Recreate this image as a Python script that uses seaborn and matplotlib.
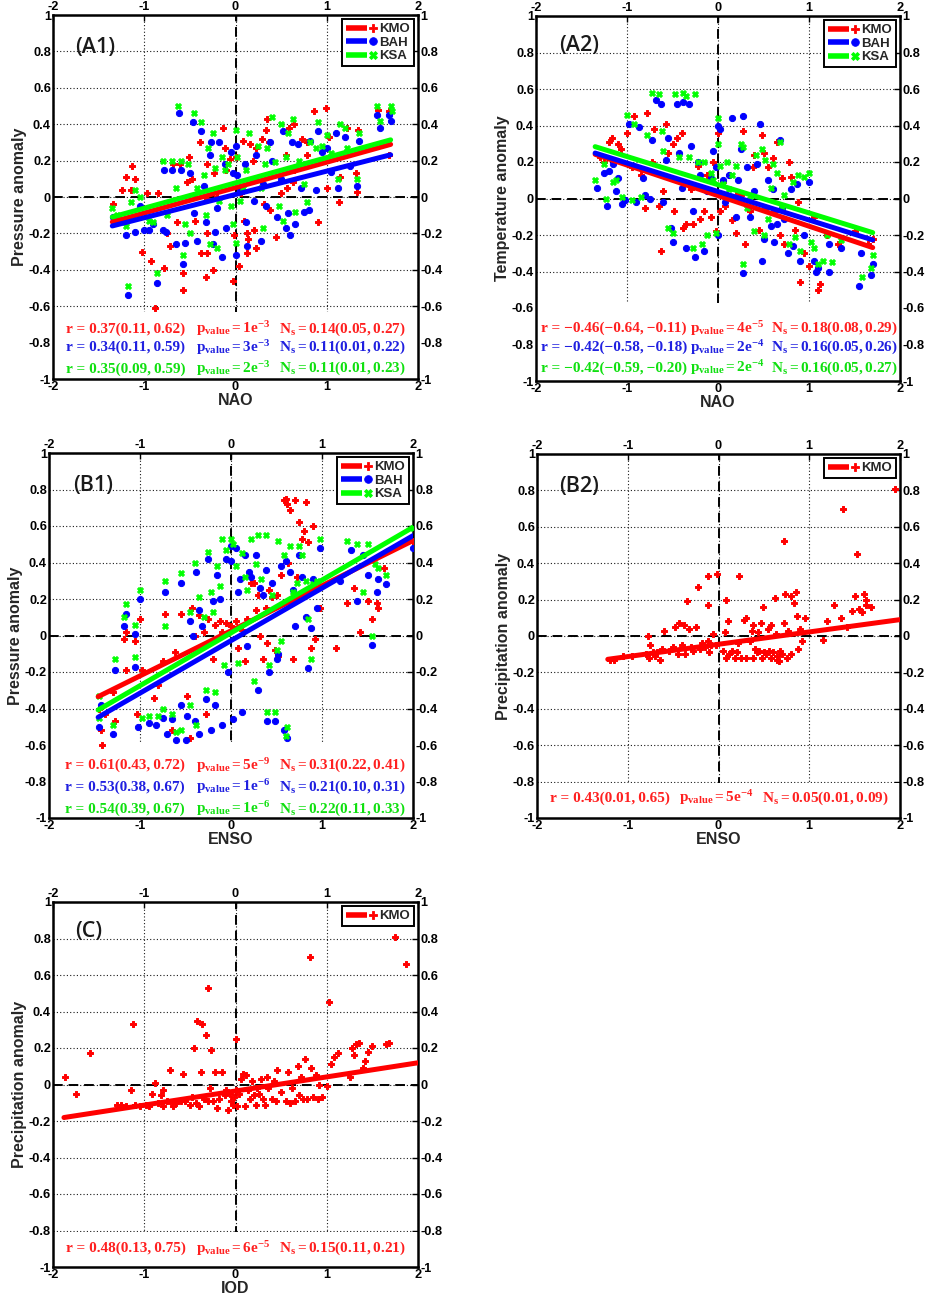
import numpy as np
import matplotlib
matplotlib.use("Agg")
import matplotlib.pyplot as plt
import seaborn as sns
from matplotlib.lines import Line2D
from matplotlib.legend_handler import HandlerBase

# ---------------------------------------------------------------------------
# Data: (index, anomaly) pairs for each station, regression end points, stats
# ---------------------------------------------------------------------------
a1_kmo = [(-1.34, -0.04), (-1.24, 0.04), (-1.20, 0.11), (-1.13, 0.17), (-1.10, 0.10), (-1.15, 0.04),
          (-1.03, -0.30), (-0.97, 0.02), (-0.93, -0.35), (-0.88, -0.61), (-0.85, 0.02), (-0.78, -0.39),
          (-0.75, -0.20), (-0.72, -0.27), (-0.69, 0.18), (-0.64, -0.14), (-0.61, 0.18), (-0.58, -0.42),
          (-0.57, -0.51), (-0.51, 0.22), (-0.48, 0.10), (-0.39, 0.30), (-0.38, -0.31), (-0.32, -0.44),
          (-0.31, -0.31), (-0.31, -0.01), (-0.25, -0.40), (-0.24, 0.13), (-0.20, 0.00), (-0.14, 0.38),
          (-0.11, 0.27), (-0.10, 0.15), (-0.03, -0.46), (0.00, 0.22), (0.04, -0.38), (0.06, 0.02),
          (0.08, 0.31), (0.13, -0.20), (0.13, -0.31), (0.14, -0.23), (0.16, 0.29), (0.19, 0.20),
          (0.23, -0.28), (0.29, 0.32), (0.31, -0.04), (0.33, 0.37), (0.34, 0.43), (0.37, 0.30),
          (0.38, -0.07), (0.50, 0.02), (0.44, -0.22), (0.55, 0.23), (0.59, 0.38), (0.64, 0.40),
          (0.63, 0.08), (0.73, 0.32), (0.78, 0.23), (0.86, 0.47), (0.90, -0.14), (0.99, 0.49),
          (1.00, 0.05), (1.02, 0.33), (1.13, -0.03), (1.14, 0.11), (1.22, 0.38), (1.32, 0.13),
          (1.33, 0.03), (1.34, 0.37), (1.56, 0.48), (1.68, 0.47), (1.68, 0.23), (0.78, 0.30),
          (0.09, -0.13), (-0.02, -0.21), (-0.44, -0.13), (-0.53, 0.08), (-0.31, 0.18), (-0.06, 0.21),
          (0.23, 0.27), (0.56, 0.05), (0.64, 0.15), (-0.31, -0.20), (0.20, -0.18)]
a1_bah = [(-1.34, -0.11), (-1.20, -0.21), (-1.18, -0.54), (-1.10, -0.19), (-1.05, -0.05), (-1.00, -0.18),
          (-0.95, -0.18), (-0.90, -0.15), (-0.86, -0.47), (-0.80, -0.18), (-0.78, 0.15), (-0.76, -0.19),
          (-0.70, 0.15), (-0.65, -0.26), (-0.62, 0.46), (-0.60, 0.15), (-0.58, -0.37), (-0.55, -0.25),
          (-0.50, 0.13), (-0.47, 0.41), (-0.45, -0.09), (-0.42, -0.24), (-0.38, 0.36), (-0.35, 0.06),
          (-0.32, -0.14), (-0.28, 0.23), (-0.27, 0.30), (-0.25, -0.26), (-0.22, -0.19), (-0.20, -0.06),
          (-0.18, 0.30), (-0.15, -0.33), (-0.12, 0.18), (-0.10, -0.17), (-0.05, 0.25), (-0.03, 0.13),
          (0.00, 0.28), (0.00, -0.32), (0.02, 0.12), (0.05, 0.04), (0.10, 0.18), (0.12, -0.14),
          (0.13, -0.27), (0.20, -0.02), (0.22, 0.23), (0.28, -0.24), (0.30, 0.07), (0.33, -0.05),
          (0.38, 0.30), (0.40, 0.20), (0.45, -0.11), (0.50, 0.10), (0.52, 0.36), (0.55, -0.17),
          (0.58, -0.09), (0.60, -0.21), (0.62, 0.30), (0.65, -0.15), (0.68, 0.29), (0.72, 0.05),
          (0.75, -0.08), (0.80, -0.07), (0.82, 0.31), (0.88, 0.04), (0.90, 0.36), (0.95, 0.25),
          (1.00, 0.27), (1.05, 0.14), (1.12, 0.05), (1.10, 0.35), (1.20, 0.33), (1.25, 0.17),
          (1.33, 0.06), (1.35, 0.31), (1.55, 0.45), (1.58, 0.38), (1.68, 0.45), (1.70, 0.42)]
a1_ksa = [(-1.35, -0.06), (-1.30, -0.10), (-1.20, -0.16), (-1.18, -0.49), (-1.15, -0.03), (-1.10, 0.04),
          (-1.05, 0.00), (-0.95, -0.13), (-0.90, -0.14), (-0.86, -0.42), (-0.80, 0.20), (-0.75, -0.10),
          (-0.70, 0.20), (-0.65, 0.05), (-0.63, 0.50), (-0.60, 0.20), (-0.58, -0.32), (-0.55, -0.15),
          (-0.52, 0.18), (-0.50, -0.20), (-0.45, 0.46), (-0.42, 0.05), (-0.38, 0.41), (-0.35, 0.12),
          (-0.32, -0.10), (-0.30, 0.27), (-0.28, -0.26), (-0.25, 0.35), (-0.22, 0.16), (-0.20, -0.28),
          (-0.18, -0.02), (-0.15, 0.22), (-0.12, 0.15), (-0.08, 0.18), (-0.05, -0.05), (-0.03, -0.15),
          (0.00, 0.37), (0.00, -0.25), (0.02, 0.22), (0.05, -0.02), (0.08, 0.05), (0.12, 0.15),
          (0.15, 0.35), (0.20, 0.10), (0.25, 0.28), (0.28, 0.05), (0.30, -0.17), (0.32, 0.18),
          (0.35, 0.27), (0.40, 0.44), (0.43, 0.19), (0.48, -0.05), (0.50, 0.40), (0.52, -0.13),
          (0.55, 0.22), (0.58, 0.35), (0.63, 0.43), (0.65, -0.08), (0.70, 0.20), (0.75, 0.07),
          (0.78, -0.03), (0.82, 0.30), (0.88, 0.27), (0.90, 0.41), (0.95, 0.28), (1.00, 0.34),
          (1.05, 0.24), (1.12, 0.10), (1.15, 0.40), (1.20, 0.38), (1.22, 0.27), (1.33, 0.10),
          (1.35, 0.35), (1.55, 0.50), (1.58, 0.42), (1.70, 0.50), (1.72, 0.47)]

a2_kmo = [(-1.30, 0.23), (-1.25, 0.20), (-1.20, 0.31), (-1.17, 0.33), (-1.10, 0.30), (-1.07, 0.27),
          (-1.00, 0.36), (-0.95, 0.17), (-0.92, 0.45), (-0.85, 0.13), (-0.80, -0.05), (-0.78, 0.47),
          (-0.73, 0.20), (-0.70, 0.38), (-0.65, -0.04), (-0.63, -0.29), (-0.60, 0.04), (-0.57, 0.41),
          (-0.55, 0.25), (-0.50, 0.30), (-0.48, -0.07), (-0.45, 0.33), (-0.40, 0.36), (-0.38, -0.16),
          (-0.35, -0.14), (-0.30, 0.05), (-0.27, -0.14), (-0.22, 0.18), (-0.20, -0.11), (-0.15, -0.07),
          (-0.12, 0.13), (-0.08, -0.10), (-0.05, 0.20), (-0.02, -0.18), (0.00, 0.36), (0.02, -0.07),
          (0.05, 0.09), (0.08, -0.04), (0.12, 0.13), (0.15, -0.12), (0.20, -0.19), (0.22, 0.03),
          (0.25, 0.02), (0.28, 0.37), (0.30, -0.25), (0.35, -0.07), (0.38, 0.17), (0.40, 0.24),
          (0.45, -0.17), (0.48, 0.35), (0.50, 0.25), (0.52, -0.05), (0.55, 0.17), (0.60, 0.22),
          (0.62, -0.07), (0.65, 0.31), (0.68, -0.20), (0.70, 0.11), (0.72, -0.25), (0.78, 0.20),
          (0.80, 0.12), (0.85, -0.17), (0.88, -0.02), (0.90, -0.46), (0.95, -0.30), (1.00, -0.37),
          (1.05, -0.10), (1.10, -0.50), (1.12, -0.47), (1.20, -0.20), (1.32, -0.25), (1.50, -0.18),
          (1.65, -0.25), (1.70, -0.22)]
a2_bah = [(-1.33, 0.06), (-1.25, 0.14), (-1.22, -0.04), (-1.20, 0.15), (-1.15, 0.19), (-1.12, 0.04),
          (-1.10, 0.11), (-1.05, -0.03), (-1.02, -0.01), (-0.98, 0.41), (-0.90, -0.02), (-0.87, 0.39),
          (-0.82, 0.11), (-0.80, 0.02), (-0.75, 0.00), (-0.72, 0.32), (-0.68, 0.54), (-0.63, 0.52),
          (-0.60, -0.02), (-0.57, 0.21), (-0.55, 0.33), (-0.52, -0.16), (-0.50, -0.24), (-0.45, 0.52),
          (-0.43, 0.25), (-0.40, 0.06), (-0.38, 0.53), (-0.35, -0.27), (-0.32, 0.52), (-0.30, 0.29),
          (-0.28, -0.07), (-0.25, -0.32), (-0.22, 0.20), (-0.20, 0.13), (-0.15, -0.29), (-0.12, 0.04),
          (-0.08, 0.11), (-0.05, 0.26), (-0.02, 0.17), (0.00, 0.40), (0.00, -0.20), (0.02, 0.38),
          (0.05, 0.10), (0.08, -0.02), (0.12, 0.13), (0.15, 0.44), (0.20, -0.10), (0.22, 0.10),
          (0.25, 0.27), (0.28, 0.45), (0.28, -0.41), (0.32, 0.17), (0.35, -0.10), (0.40, 0.04),
          (0.43, 0.19), (0.46, 0.41), (0.48, -0.34), (0.50, -0.22), (0.55, 0.10), (0.58, -0.15),
          (0.60, 0.05), (0.62, -0.24), (0.65, -0.14), (0.68, 0.32), (0.70, -0.05), (0.72, -0.11),
          (0.77, -0.30), (0.80, 0.05), (0.82, -0.26), (0.87, 0.08), (0.90, -0.34), (0.95, -0.20),
          (1.00, 0.09), (1.05, -0.34), (1.08, -0.40), (1.10, -0.38), (1.22, -0.25), (1.22, -0.40),
          (1.35, -0.27), (1.55, -0.48), (1.57, -0.30), (1.68, -0.42), (1.70, -0.36)]
a2_ksa = [(-1.35, 0.10), (-1.25, 0.19), (-1.23, 0.00), (-1.15, 0.09), (-1.12, 0.10), (-1.05, 0.01),
          (-1.00, 0.46), (-0.95, -0.01), (-0.92, 0.41), (-0.85, 0.01), (-0.78, 0.35), (-0.72, 0.58),
          (-0.65, 0.57), (-0.62, 0.37), (-0.60, 0.26), (-0.55, -0.16), (-0.50, -0.19), (-0.47, 0.57),
          (-0.43, 0.23), (-0.38, 0.58), (-0.35, 0.56), (-0.32, 0.23), (-0.28, -0.27), (-0.25, 0.57),
          (-0.22, 0.20), (-0.18, -0.25), (-0.15, 0.20), (-0.12, -0.20), (-0.08, 0.14), (-0.05, 0.10),
          (-0.02, -0.19), (0.00, 0.44), (0.00, 0.30), (0.02, 0.18), (0.05, 0.08), (0.10, 0.20),
          (0.12, 0.05), (0.15, 0.13), (0.20, 0.18), (0.25, 0.30), (0.28, 0.28), (0.28, -0.36),
          (0.32, -0.05), (0.35, 0.00), (0.40, -0.18), (0.42, 0.24), (0.48, 0.27), (0.50, -0.20),
          (0.52, 0.21), (0.55, -0.11), (0.58, 0.06), (0.60, 0.19), (0.65, 0.14), (0.68, 0.31),
          (0.70, -0.05), (0.73, 0.02), (0.78, -0.25), (0.82, 0.09), (0.85, -0.21), (0.88, 0.13),
          (0.90, -0.29), (0.95, 0.12), (1.00, 0.14), (1.02, -0.24), (1.05, -0.27), (1.10, -0.36),
          (1.15, -0.34), (1.20, -0.20), (1.25, -0.35), (1.35, -0.23), (1.58, -0.43), (1.68, -0.38),
          (1.70, -0.31)]

b1_kmo = [(-1.45, -0.40), (-1.43, -0.52), (-1.42, -0.60), (-1.38, -0.43), (-1.30, -0.31), (-1.28, -0.47),
          (-1.18, -0.02), (-1.15, 0.02), (-1.15, -0.19), (-1.05, -0.03), (-1.03, -0.43), (-1.00, 0.09),
          (-0.98, -0.19), (-0.85, -0.34), (-0.80, -0.27), (-0.75, -0.14), (-0.72, 0.12), (-0.65, -0.52),
          (-0.62, -0.09), (-0.55, 0.12), (-0.48, -0.33), (-0.45, -0.56), (-0.43, 0.15), (-0.40, 0.00),
          (-0.35, 0.11), (-0.30, 0.02), (-0.28, -0.43), (-0.25, 0.09), (-0.20, -0.13), (-0.18, 0.06),
          (-0.12, 0.08), (-0.10, 0.02), (-0.05, 0.07), (0.00, 0.05), (0.05, 0.08), (0.08, -0.07),
          (0.12, 0.03), (0.15, -0.14), (0.18, 0.09), (0.22, 0.29), (0.25, 0.29), (0.28, 0.14),
          (0.30, 0.22), (0.32, 0.00), (0.35, -0.13), (0.38, 0.15), (0.40, -0.04), (0.42, 0.25),
          (0.45, 0.21), (0.48, -0.08), (0.50, 0.22), (0.52, -0.11), (0.55, 0.33), (0.58, 0.74),
          (0.60, 0.75), (0.62, 0.72), (0.63, 0.40), (0.65, 0.69), (0.68, -0.13), (0.70, 0.74),
          (0.72, 0.32), (0.75, 0.62), (0.78, 0.53), (0.80, 0.57), (0.82, 0.73), (0.85, 0.51),
          (0.88, -0.07), (0.90, 0.60), (0.92, -0.02), (0.98, 0.15), (1.15, -0.07), (1.28, 0.18),
          (1.35, 0.26), (1.42, 0.02), (1.50, 0.19), (1.55, 0.09), (1.60, 0.18), (1.62, 0.15),
          (1.68, 0.37), (2.00, 0.52)]
b1_bah = [(-1.45, -0.50), (-1.43, -0.38), (-1.30, -0.54), (-1.28, -0.19), (-1.18, 0.05), (-1.15, 0.12),
          (-1.05, 0.01), (-1.05, -0.17), (-1.02, -0.50), (-1.00, 0.20), (-0.90, -0.48), (-0.82, -0.49),
          (-0.75, -0.45), (-0.72, 0.24), (-0.70, -0.54), (-0.65, -0.46), (-0.60, -0.57), (-0.55, -0.38),
          (-0.55, 0.29), (-0.50, -0.57), (-0.48, -0.44), (-0.45, 0.08), (-0.42, 0.00), (-0.40, -0.47),
          (-0.38, 0.35), (-0.35, -0.54), (-0.35, 0.14), (-0.32, 0.05), (-0.28, -0.35), (-0.25, 0.42),
          (-0.22, -0.52), (-0.20, 0.19), (-0.18, -0.38), (-0.15, 0.33), (-0.12, 0.20), (-0.10, -0.49),
          (-0.05, 0.42), (-0.03, -0.20), (0.00, 0.49), (0.00, 0.41), (0.02, -0.46), (0.05, 0.48),
          (0.08, 0.24), (0.10, 0.31), (0.12, -0.42), (0.15, 0.44), (0.18, -0.06), (0.20, 0.35),
          (0.22, 0.32), (0.28, 0.44), (0.30, -0.30), (0.32, 0.26), (0.35, 0.22), (0.38, 0.36),
          (0.40, -0.47), (0.42, -0.20), (0.45, 0.29), (0.48, -0.47), (0.50, -0.13), (0.52, -0.10),
          (0.55, 0.38), (0.58, -0.52), (0.60, 0.41), (0.62, -0.56), (0.65, 0.35), (0.68, 0.25),
          (0.70, 0.05), (0.72, 0.20), (0.75, 0.44), (0.78, 0.32), (0.82, 0.10), (0.85, -0.18),
          (0.88, 0.04), (0.90, 0.31), (0.95, 0.15), (0.98, 0.48), (1.20, 0.30), (1.32, 0.47),
          (1.38, 0.19), (1.45, 0.44), (1.50, 0.33), (1.55, -0.05), (1.60, 0.24), (1.62, 0.31),
          (1.70, 0.28), (2.00, 0.48)]
b1_ksa = [(-1.45, -0.33), (-1.45, -0.45), (-1.30, -0.49), (-1.28, -0.13), (-1.18, 0.10), (-1.15, 0.17),
          (-1.05, -0.12), (-1.05, 0.06), (-1.00, 0.25), (-0.98, -0.45), (-0.90, -0.44), (-0.80, -0.44),
          (-0.75, -0.40), (-0.72, 0.30), (-0.72, 0.05), (-0.65, -0.43), (-0.60, -0.53), (-0.55, 0.34),
          (-0.55, -0.52), (-0.45, -0.38), (-0.45, 0.13), (-0.40, 0.40), (-0.38, -0.49), (-0.35, 0.21),
          (-0.30, 0.10), (-0.28, -0.30), (-0.25, 0.46), (-0.22, 0.24), (-0.20, 0.13), (-0.18, -0.31),
          (-0.15, 0.38), (-0.12, 0.27), (-0.10, 0.53), (-0.08, -0.16), (-0.05, 0.47), (0.00, 0.53),
          (0.02, 0.50), (0.05, 0.38), (0.08, -0.15), (0.12, 0.45), (0.15, 0.32), (0.18, 0.25),
          (0.22, 0.53), (0.25, -0.25), (0.28, 0.39), (0.30, 0.55), (0.33, 0.31), (0.38, 0.55),
          (0.40, -0.42), (0.42, -0.16), (0.45, 0.22), (0.48, -0.42), (0.50, -0.08), (0.52, 0.52),
          (0.55, -0.03), (0.58, 0.44), (0.60, -0.55), (0.62, -0.50), (0.65, 0.49), (0.68, 0.24),
          (0.72, 0.29), (0.75, 0.49), (0.78, 0.44), (0.82, 0.30), (0.85, 0.09), (0.88, -0.13),
          (0.90, 0.28), (0.95, 0.30), (0.98, 0.53), (1.28, 0.52), (1.38, 0.50), (1.45, 0.24),
          (1.50, 0.50), (1.55, 0.00), (1.58, 0.39), (1.62, 0.37), (1.70, 0.33), (2.00, 0.59)]

b2_kmo = [(-1.20, -0.13), (-1.15, -0.13), (-1.05, -0.11), (-0.95, -0.11), (-0.80, -0.10), (-0.78, 0.00),
          (-0.77, -0.12), (-0.75, -0.05), (-0.72, -0.09), (-0.70, -0.11), (-0.68, -0.09), (-0.65, -0.13),
          (-0.62, -0.07), (-0.60, 0.03), (-0.55, -0.08), (-0.50, -0.06), (-0.48, 0.05), (-0.45, -0.10),
          (-0.43, 0.07), (-0.40, -0.05), (-0.38, 0.06), (-0.37, -0.10), (-0.35, 0.19), (-0.33, 0.04),
          (-0.30, -0.06), (-0.28, -0.08), (-0.25, 0.05), (-0.23, 0.27), (-0.20, -0.07), (-0.18, -0.04),
          (-0.15, -0.06), (-0.12, -0.03), (-0.12, 0.17), (-0.12, 0.33), (-0.10, -0.09), (-0.08, -0.05),
          (-0.06, 0.01), (-0.03, -0.05), (-0.02, 0.34), (0.05, -0.08), (0.07, 0.02), (0.08, 0.20),
          (0.08, -0.12), (0.10, 0.08), (0.12, -0.10), (0.15, -0.08), (0.18, -0.12), (0.20, -0.09),
          (0.22, -0.04), (0.23, 0.33), (0.25, -0.12), (0.28, 0.09), (0.30, 0.10), (0.30, -0.12),
          (0.35, -0.03), (0.37, 0.03), (0.38, 0.06), (0.38, -0.12), (0.40, -0.07), (0.42, -0.09),
          (0.43, 0.02), (0.45, -0.08), (0.47, 0.07), (0.48, -0.12), (0.49, 0.16), (0.50, -0.09),
          (0.52, -0.10), (0.55, 0.04), (0.56, -0.08), (0.58, 0.06), (0.58, -0.12), (0.60, -0.09),
          (0.62, 0.21), (0.63, 0.01), (0.64, -0.13), (0.65, -0.11), (0.67, -0.14), (0.68, -0.08),
          (0.70, -0.10), (0.72, 0.52), (0.72, 0.07), (0.73, 0.23), (0.75, -0.12), (0.77, 0.03),
          (0.80, -0.10), (0.80, 0.22), (0.83, 0.18), (0.85, 0.24), (0.87, 0.11), (0.88, -0.07),
          (0.90, 0.04), (0.92, -0.03), (0.95, 0.10), (1.15, -0.02), (1.20, 0.08), (1.27, 0.17),
          (1.35, 0.10), (1.37, 0.70), (1.42, 0.05), (1.47, 0.14), (1.50, 0.22), (1.53, 0.45),
          (1.55, 0.15), (1.58, 0.13), (1.60, 0.23), (1.62, 0.17), (1.63, 0.20), (1.68, 0.16),
          (1.95, 0.81)]

c_kmo = [(-1.87, 0.04), (-1.75, -0.05), (-1.60, 0.17), (-1.30, -0.11), (-1.25, -0.11), (-1.20, -0.12),
         (-1.15, -0.03), (-1.12, 0.33), (-1.10, -0.11), (-1.05, -0.12), (-0.98, -0.11), (-0.95, -0.12),
         (-0.92, -0.05), (-0.88, 0.01), (-0.85, -0.10), (-0.82, -0.06), (-0.80, -0.12), (-0.80, -0.03),
         (-0.75, -0.09), (-0.72, 0.08), (-0.70, -0.10), (-0.68, -0.12), (-0.65, -0.10), (-0.60, -0.09),
         (-0.58, 0.06), (-0.55, -0.09), (-0.50, -0.11), (-0.48, -0.07), (-0.45, 0.20), (-0.43, -0.10),
         (-0.42, 0.35), (-0.40, -0.12), (-0.38, 0.07), (-0.37, 0.33), (-0.35, -0.08), (-0.32, 0.27),
         (-0.30, -0.09), (-0.30, 0.53), (-0.28, -0.02), (-0.27, 0.19), (-0.25, -0.09), (-0.22, 0.07),
         (-0.20, -0.13), (-0.18, -0.08), (-0.15, 0.07), (-0.12, -0.06), (-0.10, -0.03), (-0.08, -0.14),
         (-0.06, -0.05), (-0.05, -0.09), (-0.03, -0.11), (-0.02, -0.07), (0.00, 0.25), (0.00, -0.03),
         (0.02, -0.12), (0.04, -0.05), (0.06, 0.03), (0.08, 0.06), (0.10, -0.12), (0.12, 0.05),
         (0.14, -0.03), (0.16, -0.08), (0.18, 0.02), (0.20, -0.06), (0.22, -0.11), (0.24, -0.02),
         (0.26, -0.05), (0.28, 0.03), (0.30, -0.08), (0.32, -0.11), (0.34, 0.04), (0.36, -0.02),
         (0.40, -0.08), (0.42, 0.02), (0.44, -0.09), (0.46, 0.08), (0.50, -0.04), (0.55, -0.09),
         (0.58, 0.07), (0.60, -0.10), (0.62, -0.02), (0.65, -0.09), (0.68, 0.10), (0.70, -0.06),
         (0.72, 0.04), (0.74, -0.08), (0.76, 0.14), (0.78, -0.08), (0.82, 0.70), (0.83, 0.09),
         (0.85, -0.07), (0.88, 0.05), (0.90, -0.08), (0.92, 0.00), (0.95, -0.07), (1.00, -0.01),
         (1.03, 0.45), (1.05, 0.11), (1.08, 0.15), (1.12, 0.17), (1.25, 0.04), (1.28, 0.20),
         (1.30, 0.16), (1.32, 0.22), (1.35, 0.23), (1.40, 0.09), (1.42, 0.13), (1.45, 0.18),
         (1.50, 0.21), (1.65, 0.22), (1.68, 0.23), (1.75, 0.81), (1.87, 0.66)]

# Least-squares lines (x end points, y end points)
a1_fit = {"KMO": ([-1.35, 1.70], [-0.137, 0.289]),
          "BAH": ([-1.35, 1.70], [-0.159, 0.232]),
          "KSA": ([-1.35, 1.70], [-0.110, 0.314])}
a2_fit = {"KMO": ([-1.35, 1.70], [0.242, -0.269]),
          "BAH": ([-1.35, 1.70], [0.249, -0.227]),
          "KSA": ([-1.35, 1.70], [0.284, -0.187])}
b1_fit = {"KMO": ([-1.46, 2.00], [-0.335, 0.520]),
          "BAH": ([-1.46, 2.00], [-0.448, 0.547]),
          "KSA": ([-1.46, 2.00], [-0.408, 0.593])}
b2_fit = {"KMO": ([-1.22, 2.00], [-0.128, 0.090])}
c_fit = {"KMO": ([-1.88, 2.00], [-0.181, 0.119])}

# Correlation (with confidence range), p-value and slope statistics per station
a1_stats = [("KMO", "0.37(0.11,\u20090.62)", "1e^{-3}", "0.14(0.05,0.27)"),
            ("BAH", "0.34(0.11,\u20090.59)", "3e^{-3}", "0.11(0.01,0.22)"),
            ("KSA", "0.35(0.09,\u20090.59)", "2e^{-3}", "0.11(0.01,0.23)")]
a2_stats = [("KMO", "\u22120.46(\u22120.64,\u2009\u22120.11)", "4e^{-5}", "0.18(0.08,0.29)"),
            ("BAH", "\u22120.42(\u22120.58,\u2009\u22120.18)", "2e^{-4}", "0.16(0.05,0.26)"),
            ("KSA", "\u22120.42(\u22120.59,\u2009\u22120.20)", "2e^{-4}", "0.16(0.05,0.27)")]
b1_stats = [("KMO", "0.61(0.43,\u20090.72)", "5e^{-9}", "0.31(0.22,0.41)"),
            ("BAH", "0.53(0.38,\u20090.67)", "1e^{-6}", "0.21(0.10,0.31)"),
            ("KSA", "0.54(0.39,\u20090.67)", "1e^{-6}", "0.22(0.11,0.33)")]
b2_stats = [("KMO", "0.43(0.01,\u20090.65)", "5e^{-4}", "0.05(0.01,0.09)")]
c_stats = [("KMO", "0.48(0.13,\u20090.75)", "6e^{-5}", "0.15(0.11,0.21)")]

x_ticks = [-2, -1, 0, 1, 2]
y_ticks = [-1, -0.8, -0.6, -0.4, -0.2, 0, 0.2, 0.4, 0.6, 0.8, 1]
y_tick_labels = ["-1", "-0.8", "-0.6", "-0.4", "-0.2", "0", "0.2", "0.4", "0.6", "0.8", "1"]

# ---------------------------------------------------------------------------
# Style
# ---------------------------------------------------------------------------
sns.set_theme(style="white")
plt.rcParams.update({
    "font.family": ["Liberation Sans", "DejaVu Sans"],
    "font.weight": "bold",
    "axes.labelweight": "bold",
    "axes.unicode_minus": False,
    "mathtext.fontset": "custom",
    "mathtext.rm": "Liberation Serif",
    "mathtext.bf": "Liberation Serif:bold",
    "mathtext.it": "Liberation Serif:italic",
})

STATION = {
    "KMO": dict(color="#ff0000", text="#ff2020", marker="P", s=20),
    "BAH": dict(color="#0000ff", text="#2020e0", marker="o", s=20),
    "KSA": dict(color="#00ff00", text="#10e010", marker="X", s=18),
}
STAT_FS = 11


class LineThenMarker(HandlerBase):
    """Legend key drawn as a thick line followed by the station marker."""

    def create_artists(self, legend, orig_handle, xdescent, ydescent,
                       width, height, fontsize, trans):
        yc = height / 2 - ydescent
        ln = Line2D([-xdescent, -xdescent + 0.66 * width], [yc, yc],
                    color=orig_handle.get_color(), lw=4, solid_capstyle="butt")
        mk = Line2D([-xdescent + 0.86 * width], [yc], ls="none",
                    marker=orig_handle.get_marker(), color=orig_handle.get_color(),
                    markersize=5.5, markeredgewidth=0.6)
        ln.set_transform(trans)
        mk.set_transform(trans)
        return [ln, mk]


W, H = 925, 1298
fig = plt.figure(figsize=(W / 100, H / 100), dpi=100)


def add_axes_px(left, top, right, bottom):
    return fig.add_axes([left / W, 1 - bottom / H, (right - left) / W, (bottom - top) / H])


def draw_panel(ax, tag, tag_xy, xlabel, ylabel, series, fits, stats, box_top, text_y, col_x):
    ax.set_xlim(-2, 2)
    ax.set_ylim(-1, 1)
    ax.grid(True, ls=(0, (1, 2)), color="black", lw=0.8, alpha=0.9)
    ax.set_axisbelow(True)
    ax.axvline(0, color="black", ls=(0, (5, 3)), lw=1.4, zorder=0.8)
    ax.axhline(0, color="black", ls=(0, (5, 3)), lw=1.4, zorder=0.8)
    ax.axhspan(-1, box_top, facecolor="white", edgecolor="none", zorder=1)

    for name, pts in series:
        st = STATION[name]
        arr = np.array(pts)
        sns.scatterplot(x=arr[:, 0], y=arr[:, 1], ax=ax, color=st["color"],
                        marker=st["marker"], s=st["s"], edgecolor=st["color"],
                        linewidth=0.7, zorder=3, legend=False)
    for name, _ in series:
        fx, fy = fits[name]
        sns.lineplot(x=fx, y=fy, ax=ax, color=STATION[name]["color"], lw=3.6,
                     zorder=4, legend=False)

    for (name, r, p, n), ty in zip(stats, text_y):
        c = STATION[name]["text"]
        ax.text(col_x[0], ty, "r = " + r, color=c, fontsize=STAT_FS,
                family="Liberation Serif", fontweight="bold",
                va="center", ha="left", zorder=5)
        ax.text(col_x[1], ty, r"$\mathbf{p_{value} = " + p + "}$", color=c,
                fontsize=STAT_FS, va="center", ha="left", zorder=5)
        ax.text(col_x[2], ty, r"$\mathbf{N_s = " + n + "}$", color=c,
                fontsize=STAT_FS, va="center", ha="left", zorder=5)

    ax.text(tag_xy[0], tag_xy[1], tag, fontsize=15.5, family="Open Sans",
            fontweight="semibold", color="#1a1a1a", ha="center", va="center", zorder=5)

    ax.set_xticks(x_ticks)
    ax.set_xticklabels([str(t) for t in x_ticks])
    ax.set_yticks(y_ticks)
    ax.set_yticklabels(y_tick_labels)
    ax.tick_params(axis="both", which="both", direction="in", length=4, width=1,
                   top=True, right=True, labeltop=True, labelright=True,
                   labelsize=9.2, pad=1.5, colors="black")
    for t in ax.xaxis.get_major_ticks() + ax.yaxis.get_major_ticks():
        t.label1.set_fontweight("bold")
        t.label2.set_fontweight("bold")
    for sp in ax.spines.values():
        sp.set_color("black")
        sp.set_linewidth(1.8)
    ax.set_xlabel(xlabel, fontsize=11.5, fontweight="bold", labelpad=0)
    ax.set_ylabel(ylabel, fontsize=11.5, fontweight="bold", labelpad=1)

    handles = [Line2D([], [], color=STATION[n]["color"], marker=STATION[n]["marker"])
               for n, _ in series]
    labels = [n for n, _ in series]
    leg = ax.legend(handles, labels, loc="upper right", handlelength=2.4,
                    handletextpad=0.15, borderpad=0.3, labelspacing=0.1,
                    borderaxespad=0.3, fancybox=False, framealpha=1,
                    edgecolor="black", prop={"weight": "bold", "size": 9.5},
                    handler_map={h: LineThenMarker() for h in handles})
    leg.get_frame().set_linewidth(1.4)
    leg.set_zorder(6)


ax_a1 = add_axes_px(53, 15, 418, 379)
draw_panel(ax_a1, "(A1)", (-1.54, 0.82), "NAO", "Pressure anomaly",
           [("KMO", a1_kmo), ("BAH", a1_bah), ("KSA", a1_ksa)], a1_fit, a1_stats,
           -0.63, [-0.725, -0.827, -0.944], [-1.86, -0.43, 0.48])

ax_a2 = add_axes_px(536, 16, 900, 381)
draw_panel(ax_a2, "(A2)", (-1.53, 0.84), "NAO", "Temperature anomaly",
           [("KMO", a2_kmo), ("BAH", a2_bah), ("KSA", a2_ksa)], a2_fit, a2_stats,
           -0.57, [-0.712, -0.815, -0.928], [-1.95, -0.31, 0.58])

ax_b1 = add_axes_px(49, 453, 413, 818)
draw_panel(ax_b1, "(B1)", (-1.51, 0.82), "ENSO", "Pressure anomaly",
           [("KMO", b1_kmo), ("BAH", b1_bah), ("KSA", b1_ksa)], b1_fit, b1_stats,
           -0.595, [-0.71, -0.83, -0.95], [-1.82, -0.38, 0.53])

ax_b2 = add_axes_px(537, 454, 900, 818)
draw_panel(ax_b2, "(B2)", (-1.54, 0.82), "ENSO", "Precipitation anomaly",
           [("KMO", b2_kmo)], b2_fit, b2_stats,
           -0.81, [-0.89], [-1.86, -0.44, 0.48])

ax_c = add_axes_px(53, 902, 418, 1267)
draw_panel(ax_c, "(C)", (-1.61, 0.84), "IOD", "Precipitation anomaly",
           [("KMO", c_kmo)], c_fit, c_stats,
           -0.81, [-0.897], [-1.86, -0.43, 0.48])

fig.savefig("out.png", dpi=100, facecolor="white")
